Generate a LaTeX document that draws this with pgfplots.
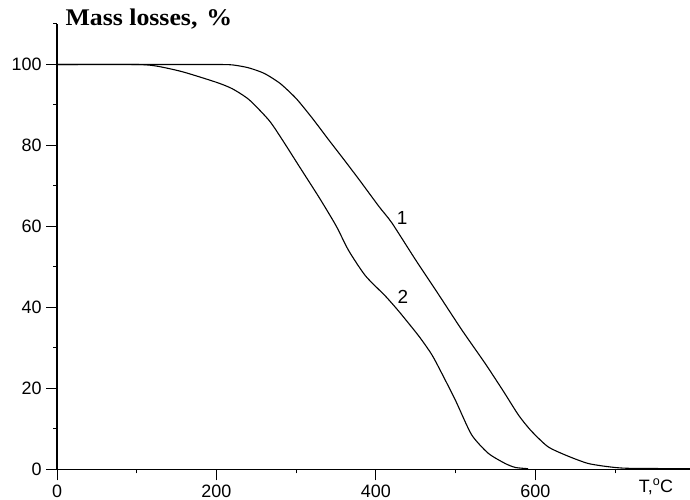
\documentclass[border=0pt]{standalone}
\usepackage{pgfplots}
\pgfplotsset{compat=1.18}
\usepackage{fontspec}
\setmainfont{Liberation Sans}
\newfontfamily\titlefont[FakeStretch=1.08]{Liberation Serif}
\begin{document}
\begin{tikzpicture}
\path[use as bounding box] (0,0) rectangle (690bp,500bp);
\begin{axis}[
  at={(57bp,30.5bp)}, anchor=south west,
  scale only axis, width=633bp, height=445.5bp,
  xmin=0, xmax=794, ymin=0, ymax=110,
  axis x line=bottom, axis y line=left,
  axis line style={-, line width=1.2bp},
  xtick={0,200,400,600}, minor xtick={100,300,500,700},
  ytick={0,20,40,60,80,100}, minor ytick={10,30,50,70,90,110},
  tick align=outside,
  major tick length=11bp, minor tick length=4bp,
  every tick/.style={black, line width=1bp},
  tick label style={font=\fontsize{18}{20}\selectfont},
  /pgf/number format/assume math mode=true,
  xticklabel style={yshift=-1bp},
  yticklabel style={xshift=-1bp},
  clip=false,
]
\addplot[black, line width=1.1bp, smooth, tension=0.4] coordinates {
(0,100) (150,100) (200,100) (220,99.9) (240,99.2) (260,97.8) (280,95.3) (300,91.6)
(320,86.8) (340,81.6) (360,76.5) (380,71.3) (404,64.9) (420,60.9) (450,51.7)
(479,43.1) (508,34.4) (537,26.2) (560,19.3) (579,13.4) (595,9.5) (616,5.6)
(641,3.3) (666,1.5) (691,0.7) (716,0.3) (794,0.2)
};
\addplot[black, line width=1.1bp, smooth, tension=0.4] coordinates {
(0,100) (100,100) (125,99.6) (157.5,98.2) (200,95.6) (220,94.0) (241,91.3) (266,86.2)
(282,81.6) (304,74.8) (329,67.1) (350,60.2) (366,54.0) (387,47.8) (412,42.8)
(429,39.0) (454,32.9) (470,28.4) (482,24.0) (500,17.0) (520,8.6) (541,4.0)
(562,1.5) (575,0.5) (591,0.2)
};
\node[font=\fontsize{19}{21}\selectfont] at (axis cs:433,62) {1};
\node[font=\fontsize{19}{21}\selectfont] at (axis cs:434,42.6) {2};
\end{axis}
\node[anchor=base west, font=\titlefont\bfseries\fontsize{24}{26}\selectfont] at (62bp,474bp) {Mass losses,\hspace{9bp}\%};
\node[anchor=base, font=\fontsize{18}{20}\selectfont] at (656bp,8bp) {T,\textsuperscript{o}C};
\end{tikzpicture}
\end{document}
